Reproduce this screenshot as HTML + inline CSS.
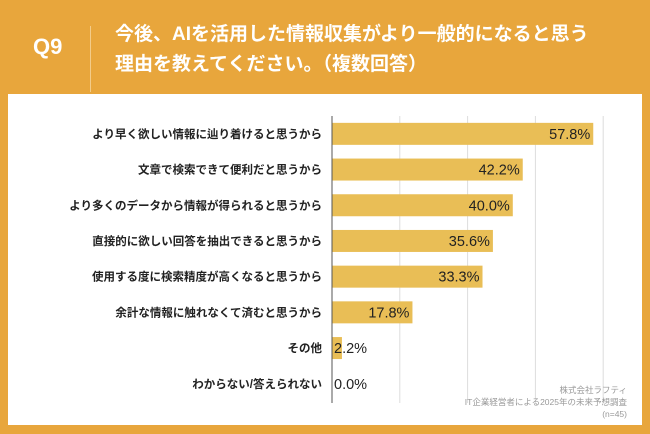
<!DOCTYPE html>
<html><head><meta charset="utf-8"><style>
body{margin:0;width:650px;height:434px;background:#E8A63C;font-family:"Liberation Sans","Noto Sans CJK JP",sans-serif;position:relative;overflow:hidden}
#panel{position:absolute;left:8px;top:94px;width:634px;height:331px;background:#fff}
.t{position:absolute;color:#fff;font-weight:bold}
</style></head><body>
<div class="t" style="left:33px;top:34px;font-size:22px">Q9</div>
<div style="position:absolute;left:90px;top:26px;width:1px;height:66px;background:#f3cc8a"></div>
<div class="t" style="left:115px;top:20px;font-size:19px;line-height:30px">今後、AIを活用した情報収集がより一般的になると思う<br>理由を教えてください。（複数回答）</div>
<div id="panel"></div>
<svg id="chart" width="650" height="434" style="position:absolute;left:0;top:0"></svg>
<div style="position:absolute;left:8px;top:405px;color:#fff;font-weight:bold;font-size:13px">⚲ リサピー</div>
<div style="position:absolute;right:23px;top:384px;text-align:right;color:#999;font-size:8.5px;line-height:12px">株式会社ラフティ<br>IT企業経営者による2025年の未来予想調査<br>(n=45)</div>
<script>
const categories=["より早く欲しい情報に辿り着けると思うから","文章で検索できて便利だと思うから","より多くのデータから情報が得られると思うから","直接的に欲しい回答を抽出できると思うから","使用する度に検索精度が高くなると思うから","余計な情報に触れなくて済むと思うから","その他","わからない/答えられない"];
const values=[57.8,42.2,40.0,35.6,33.3,17.8,2.2,0.0];
const gridTicks=[15,30,45,60];
const svg=document.getElementById('chart');const NS='http://www.w3.org/2000/svg';
const x0=332,pxPer=4.52,y0=116,step=35.7,bh=22;
const xs=v=>x0+v*pxPer;
function mk(t,a){const e=document.createElementNS(NS,t);for(const k in a)e.setAttribute(k,a[k]);svg.appendChild(e);return e;}
gridTicks.forEach(t=>{const l=mk('line',{x1:xs(t),x2:xs(t),y1:116,y2:403,stroke:'#ddd','stroke-width':1});

});
values.forEach((v,i)=>{const yc=y0+step*i+step/2;
const r=mk('rect',{x:x0,y:yc-bh/2,width:v*pxPer,height:bh,fill:'#E9BE56'});


const lab=mk('text',{x:322,y:yc+4,'text-anchor':'end','font-size':11.5,'font-weight':'bold',fill:'#222'});lab.textContent=categories[i];


const big=v>10;const vl=mk('text',{x:big?xs(v)-3:x0+2,y:yc+5,'text-anchor':big?'end':'start','font-size':14.5,fill:'#222'});vl.textContent=v.toFixed(1)+'%';

});
const ax=mk('line',{x1:x0,x2:x0,y1:116,y2:403,stroke:'#555','stroke-width':1});


</script>
</body></html>
